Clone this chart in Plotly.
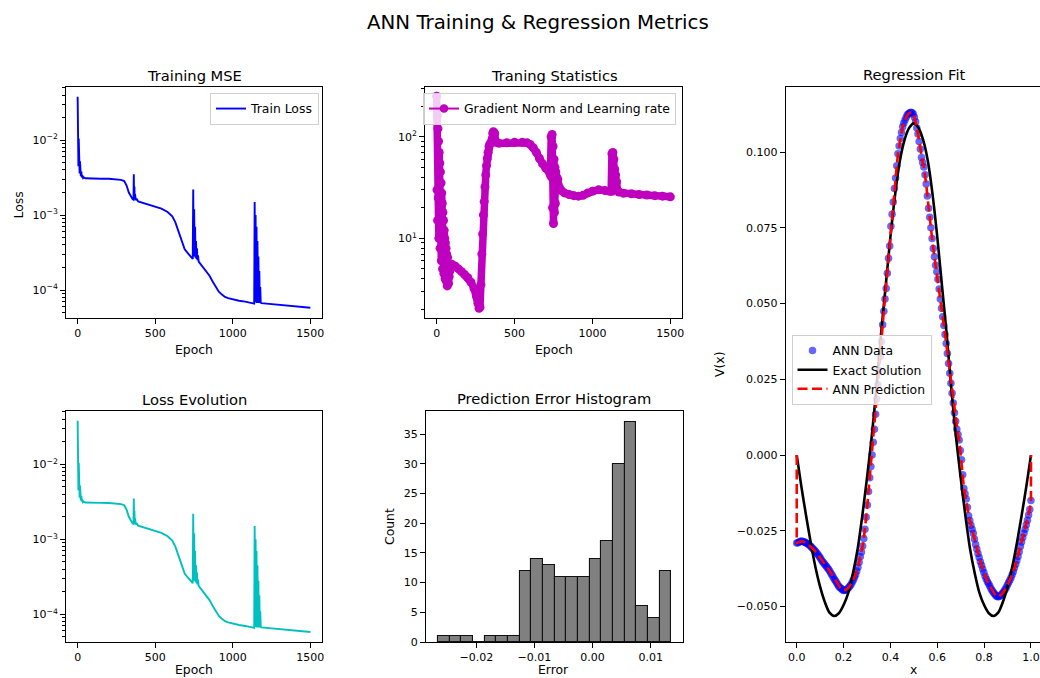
import numpy as np
import plotly.graph_objects as go

W, H = 1040, 678
FONT = "DejaVu Sans"

# ---------------- data ----------------
loss_epochs = [0, 1, 3, 5, 7, 9, 11, 13, 15, 17,
               19, 21, 24, 27, 30, 35, 40, 50, 70, 100,
               150, 200, 250, 280, 300, 315, 330, 345, 355, 360,
               362, 364, 366, 368, 370, 375, 380, 390, 420, 460,
               500, 540, 580, 610, 630, 650, 670, 690, 710, 730,
               742, 745, 748, 751, 754, 757, 760, 763, 766, 769,
               772, 776, 780, 790, 810, 830, 850, 870, 890, 910,
               930, 950, 970, 1000, 1040, 1080, 1110, 1130, 1138, 1141,
               1144, 1147, 1150, 1153, 1156, 1159, 1162, 1165, 1168, 1171,
               1174, 1177, 1180, 1185, 1200, 1250, 1300, 1350, 1400, 1450,
               1500]
loss_values = [0.038, 0.0052, 0.020, 0.0045, 0.0105, 0.0040, 0.0070, 0.0036, 0.0052, 0.0034,
               0.0043, 0.0033, 0.0038, 0.00318, 0.0034, 0.00312, 0.00318, 0.00310, 0.00308, 0.00307,
               0.00306, 0.00305, 0.00302, 0.00295, 0.00285, 0.00250, 0.00200, 0.00172, 0.00162, 0.00160,
               0.00350, 0.00170, 0.00240, 0.00160, 0.00190, 0.00158, 0.00165, 0.00152, 0.00145, 0.00138,
               0.00130, 0.00122, 0.00110, 0.00096, 0.00080, 0.00060, 0.00044, 0.00035, 0.00031, 0.00028,
               0.00026, 0.00220, 0.00030, 0.00120, 0.00028, 0.00070, 0.00027, 0.00045, 0.00026, 0.00036,
               0.00025, 0.00029, 0.00024, 0.000225, 0.000205, 0.000180, 0.000155, 0.000130, 0.000110, 0.000095,
               0.000087, 0.000081, 0.000078, 0.000075, 0.000072, 0.000070, 0.000068, 0.000066, 0.000066, 0.00150,
               0.000068, 0.00100, 0.000068, 0.00070, 0.000067, 0.00045, 0.000067, 0.00028, 0.000067, 0.00018,
               0.000067, 0.00011, 0.000068, 0.000067, 0.0000665, 0.000065, 0.000063, 0.000062, 0.000061, 0.0000595,
               0.000058]

grad_epochs = [0, 2, 4, 6, 8, 10, 12, 14, 16, 18, 20, 22, 24, 26, 28, 30, 32, 34, 36, 38,
               40, 42, 44, 46, 48, 50, 52, 54, 56, 58, 60, 62, 64, 66, 68, 70, 72, 74, 76, 78, 80,
               85, 90, 100, 120, 140, 160, 180, 200, 220, 240,
               255, 265, 272, 278, 284, 290, 295, 300, 305, 310, 315, 320, 325, 330, 336, 342,
               350, 356, 360, 364, 368, 372, 376, 380,
               400, 450, 500, 550, 580, 600, 620, 640, 660, 680, 700, 720, 730,
               735, 738, 741, 744, 747, 750, 753, 756, 759, 762, 765, 768, 771, 774, 777, 780,
               790, 800, 820, 850, 880, 910, 940, 970, 1000, 1040, 1080, 1110, 1120,
               1125, 1128, 1131, 1134, 1137, 1140, 1143, 1146, 1149, 1152, 1155, 1160,
               1170, 1200, 1250, 1300, 1350, 1400, 1450, 1500]
grad_values = [250, 30, 160, 15, 120, 25, 90, 10, 70, 20, 55, 8, 45, 14, 35, 6, 28, 10, 22, 5,
               18, 8, 15, 4.5, 12, 6, 10, 4, 9, 5, 8, 3.8, 7, 4.2, 3.4, 6.5, 4, 5.5, 3.6, 5.2, 4.2,
               4.8, 5.6, 5.5, 5.3, 5.0, 4.7, 4.4, 4.1, 3.7, 3.2,
               2.7, 2.3, 2.05, 2.1, 3.5, 7, 11, 17, 23, 32, 42, 52, 61, 70, 80, 85,
               88, 95, 108, 112, 100, 108, 92, 88,
               86, 87, 88, 88, 87, 84, 78, 70, 61, 54, 49, 46, 42,
               100, 40, 105, 20, 80, 14, 60, 18, 50, 22, 45, 30, 40, 35, 38, 34,
               31, 29.5, 28, 27, 26.3, 26, 26.5, 28, 29, 30, 29.5, 29, 29,
               68, 30, 70, 33, 60, 32, 48, 30, 42, 31, 36, 30,
               28.5, 27.8, 27.4, 27, 26.7, 26.3, 26, 25.6]

hist_counts = [1, 1, 1, 0, 1, 1, 1, 12, 14, 13, 11, 11, 11, 14, 17, 30, 37, 6, 4, 12]
hist_left_edge = -0.0266
hist_bin_width = 0.002007

exact_x = [0.00, 0.02, 0.04, 0.06, 0.08, 0.10, 0.12, 0.14, 0.16, 0.18,
           0.20, 0.22, 0.24, 0.26, 0.28, 0.30, 0.32, 0.34, 0.36, 0.38,
           0.40, 0.42, 0.44, 0.46, 0.48, 0.50, 0.52, 0.54, 0.56, 0.58,
           0.60, 0.62, 0.64, 0.66, 0.68, 0.70, 0.72, 0.74, 0.76, 0.78,
           0.80, 0.82, 0.84, 0.86, 0.88, 0.90, 0.92, 0.94, 0.96, 0.98, 1.00]
exact_v = [0.0, -0.0105, -0.0200, -0.0290, -0.0370, -0.0435, -0.0485, -0.0520, -0.0531, -0.0522,
           -0.0495, -0.0455, -0.0390, -0.0310, -0.0200, -0.0075, 0.0060, 0.0220, 0.0400, 0.0560,
           0.0720, 0.0860, 0.0970, 0.1040, 0.1080, 0.1095, 0.1080, 0.1040, 0.0970, 0.0860,
           0.0720, 0.0560, 0.0400, 0.0220, 0.0060, -0.0075, -0.0200, -0.0310, -0.0390, -0.0455,
           -0.0495, -0.0522, -0.0531, -0.0520, -0.0485, -0.0435, -0.0370, -0.0290, -0.0200, -0.0105, 0.0]

ann_v = [-0.0290, -0.0289, -0.0287, -0.0285, -0.0284, -0.0285, -0.0286, -0.0288, -0.0290, -0.0292,
         -0.0295, -0.0298, -0.0302, -0.0306, -0.0310, -0.0314, -0.0318, -0.0323, -0.0328, -0.0334,
         -0.0340, -0.0346, -0.0352, -0.0356, -0.0362, -0.0366, -0.0372, -0.0377, -0.0383, -0.0390,
         -0.0396, -0.0403, -0.0410, -0.0416, -0.0422, -0.0429, -0.0435, -0.0438, -0.0441, -0.0445,
         -0.0447, -0.0446, -0.0445, -0.0442, -0.0438, -0.0433, -0.0428, -0.0421, -0.0413, -0.0404,
         -0.0395, -0.0383, -0.0370, -0.0354, -0.0336, -0.0320, -0.0300, -0.0275, -0.0245, -0.0205,
         -0.0165, -0.0120, -0.0075, -0.0038, 0.0000, 0.0042, 0.0085, 0.0135, 0.0185, 0.0232,
         0.0280, 0.0325, 0.0375, 0.0430, 0.0475, 0.0515, 0.0550, 0.0600, 0.0650, 0.0690,
         0.0755, 0.0795, 0.0835, 0.0880, 0.0915, 0.0955, 0.0995, 0.1020, 0.1045, 0.1065,
         0.1084, 0.1096, 0.1106, 0.1115, 0.1123, 0.1127, 0.1130, 0.1132, 0.1130, 0.1126,
         0.1115, 0.1100, 0.1080, 0.1060, 0.1035, 0.1010, 0.0982, 0.0966, 0.0951, 0.0925,
         0.0895, 0.0855, 0.0815, 0.0785, 0.0750, 0.0715, 0.0682, 0.0655, 0.0627, 0.0605,
         0.0580, 0.0548, 0.0515, 0.0485, 0.0457, 0.0428, 0.0398, 0.0368, 0.0335, 0.0302,
         0.0270, 0.0237, 0.0204, 0.0172, 0.0140, 0.0112, 0.0085, 0.0068, 0.0050, 0.0015,
         -0.0015, -0.0065, -0.0110, -0.0128, -0.0145, -0.0172, -0.0200, -0.0216, -0.0232, -0.0245,
         -0.0258, -0.0277, -0.0295, -0.0310, -0.0325, -0.0338, -0.0352, -0.0364, -0.0376, -0.0388,
         -0.0400, -0.0409, -0.0418, -0.0425, -0.0432, -0.0440, -0.0447, -0.0453, -0.0458, -0.0463,
         -0.0467, -0.0468, -0.0467, -0.0464, -0.0460, -0.0455, -0.0450, -0.0444, -0.0437, -0.0429,
         -0.0421, -0.0413, -0.0405, -0.0395, -0.0385, -0.0373, -0.0360, -0.0348, -0.0335, -0.0319,
         -0.0302, -0.0287, -0.0272, -0.0258, -0.0245, -0.0230, -0.0215, -0.0198, -0.0180, -0.0150]
ann_x = np.linspace(0.0, 1.0, len(ann_v))
boundary_v = [0.0, 0.0]

# ---------------- derived ----------------
hist_centers = [hist_left_edge + (i + 0.5) * hist_bin_width for i in range(len(hist_counts))]
pred_x = [0.0] + list(ann_x) + [1.0]
pred_v = [boundary_v[0]] + ann_v + [boundary_v[1]]


def px_x(p):
    return p / W


def px_y(p):
    return 1 - p / H


def minor_log(lo, hi):
    vals = []
    for d in range(-6, 4):
        for m in range(2, 10):
            v = m * 10.0 ** d
            if lo <= v <= hi:
                vals.append(v)
    return vals


fig = go.Figure()

BLUE, MAG, CYAN = "#0000ff", "#bf00bf", "#00bfbf"
TICK_FS, LAB_FS, LEG_FS, TITLE_FS, SUP_FS = 11, 12.4, 12.4, 14.7, 19.8

fig.add_trace(go.Scatter(x=loss_epochs, y=loss_values, mode="lines",
                         line=dict(color=BLUE, width=1.9), name="Train Loss",
                         xaxis="x", yaxis="y", legend="legend"))
fig.add_trace(go.Scatter(x=grad_epochs, y=grad_values, mode="lines+markers",
                         line=dict(color=MAG, width=7.5), marker=dict(color=MAG, size=9),
                         showlegend=False, xaxis="x2", yaxis="y2"))
fig.add_trace(go.Scatter(x=[None], y=[None], mode="lines+markers",
                         line=dict(color=MAG, width=2), marker=dict(color=MAG, size=8.5),
                         name="Gradient Norm and Learning rate",
                         xaxis="x2", yaxis="y2", legend="legend2"))
fig.add_trace(go.Scatter(x=loss_epochs, y=loss_values, mode="lines",
                         line=dict(color=CYAN, width=1.9), showlegend=False,
                         xaxis="x3", yaxis="y3"))
fig.add_trace(go.Bar(x=hist_centers, y=hist_counts, width=hist_bin_width,
                     marker=dict(color="#808080", line=dict(color="#111111", width=1.1)),
                     showlegend=False, xaxis="x4", yaxis="y4"))
fig.add_trace(go.Scatter(x=ann_x, y=ann_v, mode="markers",
                         marker=dict(color="rgba(0,0,255,0.6)", size=7.5),
                         name="ANN Data", xaxis="x5", yaxis="y5", legend="legend3"))
fig.add_trace(go.Scatter(x=exact_x, y=exact_v, mode="lines",
                         line=dict(color="black", width=2.6, shape="spline", smoothing=0.8),
                         name="Exact Solution", xaxis="x5", yaxis="y5", legend="legend3"))
fig.add_trace(go.Scatter(x=pred_x, y=pred_v, mode="lines",
                         line=dict(color="#ff0000", width=2.6, dash="10px,4.5px"),
                         name="ANN Prediction", xaxis="x5", yaxis="y5", legend="legend3"))

axis_common = dict(showline=True, linecolor="black", linewidth=1, mirror=True,
                   ticks="outside", ticklen=5, tickwidth=1, tickcolor="black",
                   showgrid=False, zeroline=False, automargin=False,
                   tickfont=dict(family=FONT, size=TICK_FS, color="black"))


def ax(**kw):
    d = dict(axis_common)
    d.update(kw)
    return d


loss_range = [-4.373, -1.291]
minor_loss = dict(ticks="outside", ticklen=3, tickwidth=0.8, tickcolor="black",
                  tickvals=minor_log(10 ** loss_range[0], 10 ** loss_range[1]), showgrid=False)
grad_range = [0.216, 2.489]
minor_grad = dict(ticks="outside", ticklen=3, tickwidth=0.8, tickcolor="black",
                  tickvals=minor_log(10 ** grad_range[0], 10 ** grad_range[1]), showgrid=False)

epoch_ticks = [0, 500, 1000, 1500]
loss_tickvals = [1e-4, 1e-3, 1e-2]
loss_ticktext = ["10<sup>−4</sup>", "10<sup>−3</sup>", "10<sup>−2</sup>"]

leg_common = dict(xanchor="left", yanchor="top",
                  bgcolor="rgba(255,255,255,0.8)", bordercolor="#cfcfcf", borderwidth=1,
                  font=dict(family=FONT, size=LEG_FS, color="black"), itemwidth=30,
                  tracegroupgap=0)

fig.update_layout(
    width=W, height=H, autosize=False,
    margin=dict(l=0, r=0, t=0, b=0, pad=0, autoexpand=False),
    paper_bgcolor="white", plot_bgcolor="white",
    font=dict(family=FONT, size=TICK_FS, color="black"),
    bargap=0,
    xaxis=ax(domain=[px_x(66), px_x(322)], anchor="y", range=[-75, 1575], tickvals=epoch_ticks),
    yaxis=ax(domain=[px_y(318), px_y(87)], anchor="x", type="log", range=loss_range,
             tickvals=loss_tickvals, ticktext=loss_ticktext, minor=minor_loss),
    xaxis2=ax(domain=[px_x(425), px_x(682)], anchor="y2", range=[-75, 1575], tickvals=epoch_ticks),
    yaxis2=ax(domain=[px_y(318), px_y(87)], anchor="x2", type="log", range=grad_range,
              tickvals=[10, 100], ticktext=["10<sup>1</sup>", "10<sup>2</sup>"], minor=minor_grad),
    xaxis3=ax(domain=[px_x(66), px_x(322)], anchor="y3", range=[-75, 1575], tickvals=epoch_ticks),
    yaxis3=ax(domain=[px_y(642), px_y(411)], anchor="x3", type="log", range=[-4.369, -1.289],
              tickvals=loss_tickvals, ticktext=loss_ticktext, minor=minor_loss),
    xaxis4=ax(domain=[px_x(426), px_x(683)], anchor="y4", range=[-0.02865, 0.01555],
              tickvals=[-0.02, -0.01, 0.0, 0.01], ticktext=["−0.02", "−0.01", "0.00", "0.01"]),
    yaxis4=ax(domain=[px_y(642), px_y(411)], anchor="x4", range=[0, 38.9],
              tickvals=[0, 5, 10, 15, 20, 25, 30, 35]),
    xaxis5=ax(domain=[px_x(785.7), 1.0], anchor="y5", range=[-0.0471, 1.0386],
              tickvals=[0, 0.2, 0.4, 0.6, 0.8, 1.0],
              ticktext=["0.0", "0.2", "0.4", "0.6", "0.8", "1.0"]),
    yaxis5=ax(domain=[px_y(642), px_y(87)], anchor="x5", range=[-0.0617, 0.1215], mirror=False,
              tickvals=[-0.05, -0.025, 0.0, 0.025, 0.05, 0.075, 0.1],
              ticktext=["−0.050", "−0.025", "0.000", "0.025", "0.050", "0.075", "0.100"]),
    legend=dict(x=px_x(210), y=px_y(93), **leg_common),
    legend2=dict(x=px_x(423), y=px_y(93), **leg_common),
    legend3=dict(x=px_x(791.5), y=px_y(335), **leg_common),
)

annots = [
    ("ANN Training & Regression Metrics", 538, 22, SUP_FS, 0),
    ("Training MSE", 194, 75, TITLE_FS, 0),
    ("Traning Statistics", 554, 75, TITLE_FS, 0),
    ("Loss Evolution", 194, 399, TITLE_FS, 0),
    ("Prediction Error Histogram", 554, 398.5, TITLE_FS, 0),
    ("Regression Fit", 914, 74.5, TITLE_FS, 0),
    ("Epoch", 193.5, 349, LAB_FS, 0),
    ("Epoch", 553.5, 349, LAB_FS, 0),
    ("Epoch", 194, 669, LAB_FS, 0),
    ("Error", 553.5, 669, LAB_FS, 0),
    ("x", 913, 669, LAB_FS, 0),
    ("Loss", 17.5, 205, LAB_FS, -90),
    ("Count", 389.5, 526.5, LAB_FS, -90),
    ("V(x)", 719, 365, LAB_FS, -90),
]
fig.update_layout(annotations=[
    dict(text=t, x=px_x(xp), y=px_y(yp), xref="paper", yref="paper",
         xanchor="center", yanchor="middle", showarrow=False, textangle=ang,
         font=dict(family=FONT, size=s, color="black"))
    for (t, xp, yp, s, ang) in annots
])

fig.write_html("out.html",
               config={"displayModeBar": False, "responsive": False},
               post_script="document.body.style.margin='0';document.body.style.overflow='hidden';")
